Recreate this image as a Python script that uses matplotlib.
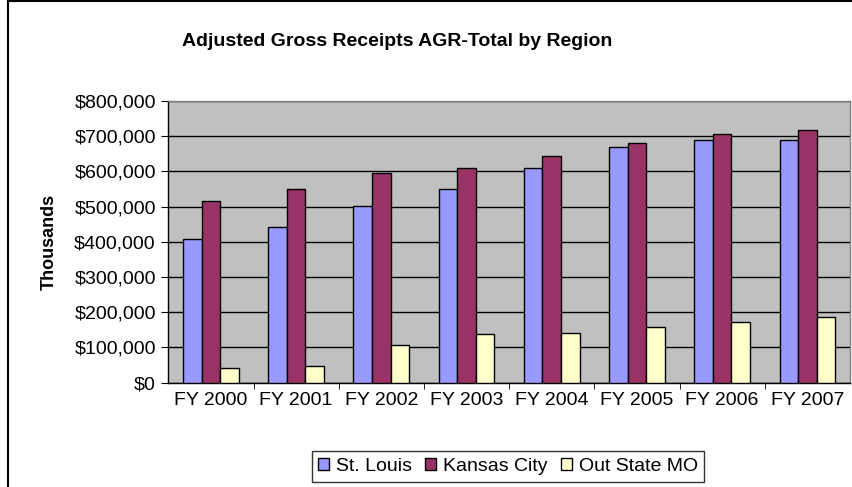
import matplotlib
matplotlib.use("Agg")
import matplotlib.pyplot as plt
import numpy as np
from matplotlib.ticker import FuncFormatter, FixedLocator
from matplotlib.lines import Line2D

plt.rcParams['font.family'] = ['Liberation Sans', 'DejaVu Sans']

categories = ["FY 2000", "FY 2001", "FY 2002", "FY 2003", "FY 2004", "FY 2005", "FY 2006", "FY 2007"]
st_louis = [408000, 443000, 501000, 551000, 610000, 670000, 689000, 689000]
kansas_city = [516000, 551000, 595000, 610000, 644000, 680000, 705000, 719000]
out_state = [43000, 48000, 107000, 137000, 141000, 157000, 172000, 186000]
series_names = ["St. Louis", "Kansas City", "Out State MO"]
colors = ["#9999FF", "#993366", "#FFFFCC"]

fig = plt.figure(figsize=(8.53, 4.87), dpi=100)
ax = fig.add_axes([168.3/853, (487-382.7)/487, (850-168.3)/853, (382.7-101)/487])
ax.set_facecolor("#C0C0C0")

x = np.arange(len(categories))
w = 0.218
handles = []
for i, (vals, name, c) in enumerate(zip([st_louis, kansas_city, out_state], series_names, colors)):
    b = ax.bar(x + (i - 1) * w, vals, width=w, color=c, edgecolor="black", linewidth=1.0, label=name, zorder=3)
    handles.append(b)

ax.set_xlim(-0.5, len(categories) - 0.5)
ax.set_ylim(0, 800000)
ax.set_yticks(np.arange(0, 800001, 100000))
ax.yaxis.set_major_formatter(FuncFormatter(lambda v, p: "${:,.0f}".format(v)))
ax.yaxis.grid(True, color="black", linewidth=1.0, zorder=1)
ax.set_axisbelow(True)

ax.set_xticks(x)
ax.set_xticklabels(categories)
ax.xaxis.set_minor_locator(FixedLocator(np.arange(0.5, len(categories) - 0.5, 1.0)))
ax.tick_params(axis="x", which="major", length=0, pad=7, labelsize=14)
ax.tick_params(axis="x", which="minor", length=4, direction="out", color="black")
ax.tick_params(axis="y", which="major", length=5, direction="out", pad=4, labelsize=14)

for s in ["top", "right"]:
    ax.spines[s].set_color("#808080")
    ax.spines[s].set_linewidth(1.0)
for s in ["left", "bottom"]:
    ax.spines[s].set_color("black")
    ax.spines[s].set_linewidth(1.0)

ax.set_ylabel("Thousands", fontsize=13, fontweight="bold", labelpad=12)

fig.text(397/853, 1 - 42/487, "Adjusted Gross Receipts AGR-Total by Region",
         ha="center", va="center", fontsize=14, fontweight="bold")

leg = fig.legend(handles=handles, labels=series_names, loc="center",
                 bbox_to_anchor=(508/853, 1 - 466.5/487), ncol=3, fontsize=14,
                 frameon=True, fancybox=False, edgecolor="black", handlelength=0.55,
                 handleheight=0.55, handletextpad=0.35, columnspacing=0.7, borderpad=0.35)
leg.get_frame().set_linewidth(1.0)

# outer chart border (left and top)
fig.add_artist(Line2D([8/853, 8/853], [0, 1 - 1/487], color="black", linewidth=1.5, transform=fig.transFigure))
fig.add_artist(Line2D([8/853, 1], [1 - 1/487, 1 - 1/487], color="black", linewidth=1.5, transform=fig.transFigure))

fig.savefig("out.png", dpi=100)
